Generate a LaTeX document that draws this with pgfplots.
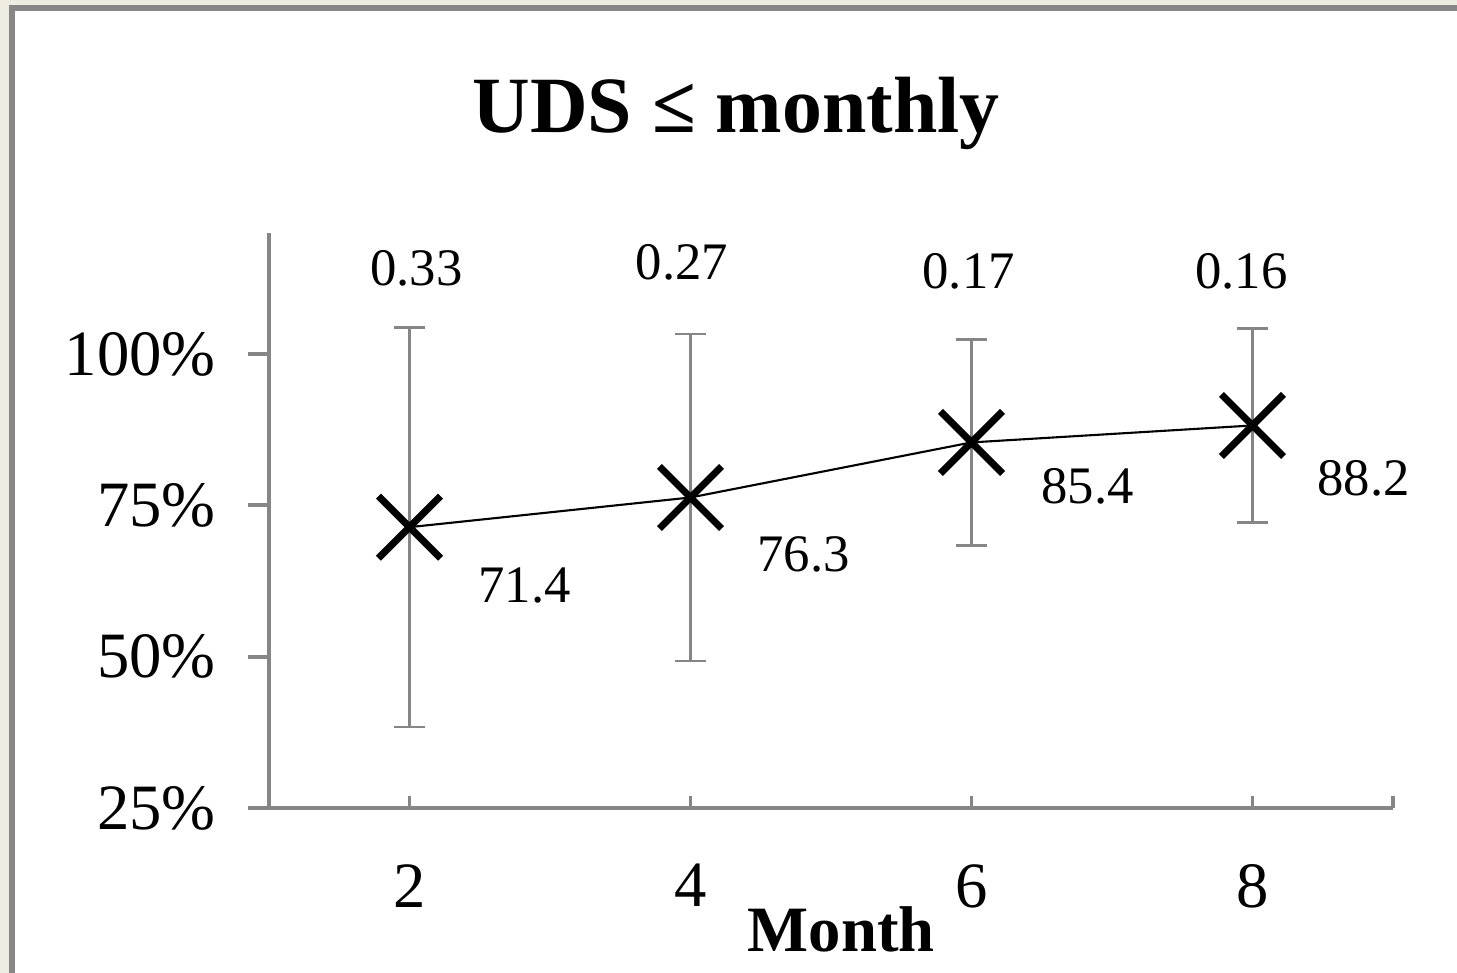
\documentclass[border=0pt]{standalone}
\usepackage{fontspec}
\setmainfont{Liberation Serif}
\usepackage{pgfplots}
\usepackage{pgfplotstable}
\pgfplotsset{compat=1.18}
\definecolor{frameback}{RGB}{238,235,224}
\definecolor{framegray}{RGB}{135,135,135}
\definecolor{axisgray}{RGB}{134,134,134}

\pgfplotstableread{
month pct err
2 71.4 33
4 76.3 27
6 85.4 17
8 88.2 16
}\udsdata

\begin{document}
\begin{tikzpicture}[x=1cm,y=1cm]
\useasboundingbox (0,0) rectangle (14.57,9.73);
\fill[frameback] (0,0) rectangle (14.57,9.73);
\fill[framegray] (0.09,0) rectangle (14.57,9.68);
\fill[white] (0.15,0) rectangle (14.57,9.62);
\node[anchor=base, font=\bfseries\fontsize{22.7}{27}\selectfont] at (7.36,8.40) {UDS ≤ monthly};
\begin{axis}[
  at={(2.69cm,1.65cm)}, anchor=south west,
  scale only axis, width=11.24cm, height=5.75cm,
  xmin=1, xmax=9, ymin=25, ymax=120,
  axis x line*=bottom, axis y line*=left,
  axis line style={draw=axisgray, line width=1.1pt, -},
  xtick={2,4,6,8}, xticklabels={2,4,6,8},
  ytick={25,50,75,100}, yticklabels={25\%,50\%,75\%,100\%},
  tick align=outside, major tick length=0.21cm,
  tick style={draw=axisgray, line width=1.1pt},
  xtick style={draw opacity=0, line width=0pt},
  ticklabel style={font=\fontsize{18.4}{22}\selectfont, text=black},
  yticklabel style={xshift=-0.2cm},
  xticklabel style={yshift=-0.23cm},
  xlabel={Month},
  xlabel style={at={(axis description cs:0.509,-0.2504)}, anchor=base, font=\bfseries\fontsize{18.4}{22}\selectfont},
  clip=false,
]
% short inward ticks on the month axis
\draw[axisgray, line width=1.1pt] (axis cs:2,25) -- ([yshift=0.12cm]axis cs:2,25);
\draw[axisgray, line width=1.1pt] (axis cs:4,25) -- ([yshift=0.12cm]axis cs:4,25);
\draw[axisgray, line width=1.1pt] (axis cs:6,25) -- ([yshift=0.12cm]axis cs:6,25);
\draw[axisgray, line width=1.1pt] (axis cs:8,25) -- ([yshift=0.12cm]axis cs:8,25);
\draw[axisgray, line width=1.1pt] (axis cs:9,25) -- ([yshift=0.12cm]axis cs:9,25);

\addplot[black, line width=0.6pt, mark=x, mark size=12.5pt,
  mark options={line width=2pt, solid, black},
  error bars/.cd, y dir=both, y explicit,
  error bar style={axisgray, line width=0.7pt},
  error mark options={rotate=90, mark size=4.5pt, axisgray, line width=0.7pt}]
  table[x=month, y=pct, y error=err] {\udsdata};

% percentage values
\begin{scope}[every node/.style={font=\fontsize{15}{18}\selectfont, anchor=center}]
\node[xshift=1.15cm, yshift=-0.58cm] at (axis cs:2,71.4) {71.4};
\node[xshift=1.13cm, yshift=-0.57cm] at (axis cs:4,76.3) {76.3};
\node[xshift=1.16cm, yshift=-0.44cm] at (axis cs:6,85.4) {85.4};
\node[xshift=1.11cm, yshift=-0.53cm] at (axis cs:8,88.2) {88.2};
% spread above each bar
\node at (axis cs:2.05,114.1) {0.33};
\node at (axis cs:3.94,115.1) {0.27};
\node at (axis cs:5.98,113.7) {0.17};
\node at (axis cs:7.92,113.7) {0.16};
\end{scope}
\end{axis}
\end{tikzpicture}
\end{document}
